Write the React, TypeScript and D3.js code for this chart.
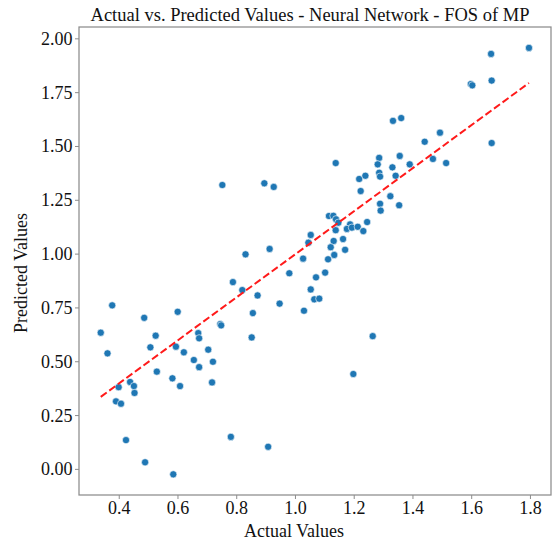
import React from "react";
import * as d3 from "d3";

const actualValues: number[] = [
  0.751, 0.894, 0.926, 0.830, 0.912, 1.026, 1.044, 1.052, 1.795, 1.666,
  1.668, 1.597, 1.602, 1.668, 1.332, 1.360, 1.492, 1.440, 1.468, 1.513,
  1.137, 1.285, 1.280, 1.355, 1.389, 1.330, 1.285, 1.288, 1.341, 1.217,
  1.238, 1.222, 1.323, 1.288, 1.353, 1.290, 1.114, 1.129, 1.138, 1.146,
  1.186, 1.244, 1.137, 1.175, 1.192, 1.212, 1.231, 1.130, 1.162, 1.120,
  1.169, 1.132, 1.111, 1.070, 1.101, 1.052, 1.064, 1.081, 1.029, 1.263,
  1.197, 0.337, 0.376, 0.360, 0.398, 0.389, 0.406, 0.437, 0.450, 0.452,
  0.423, 0.485, 0.506, 0.524, 0.528, 0.488, 0.599, 0.593, 0.620, 0.581,
  0.607, 0.584, 0.654, 0.669, 0.672, 0.672, 0.703, 0.719, 0.716, 0.744,
  0.747, 0.787, 0.819, 0.871, 0.855, 0.851, 0.780, 0.907, 0.979, 0.946,
];

const predictedValues: number[] = [
  1.321, 1.329, 1.312, 0.999, 1.024, 0.979, 1.053, 1.089, 1.958, 1.930,
  1.806, 1.790, 1.784, 1.516, 1.619, 1.632, 1.564, 1.522, 1.442, 1.423,
  1.423, 1.447, 1.417, 1.456, 1.417, 1.403, 1.378, 1.360, 1.364, 1.349,
  1.364, 1.293, 1.269, 1.234, 1.227, 1.202, 1.177, 1.178, 1.162, 1.146,
  1.138, 1.149, 1.111, 1.117, 1.123, 1.127, 1.107, 1.061, 1.070, 1.032,
  1.020, 0.996, 0.976, 0.892, 0.914, 0.836, 0.790, 0.793, 0.737, 0.619,
  0.443, 0.635, 0.762, 0.539, 0.382, 0.316, 0.305, 0.406, 0.387, 0.355,
  0.136, 0.704, 0.567, 0.621, 0.454, 0.033, 0.732, 0.570, 0.544, 0.423,
  0.387, -0.023, 0.508, 0.633, 0.609, 0.475, 0.556, 0.500, 0.404, 0.675,
  0.669, 0.870, 0.833, 0.808, 0.726, 0.613, 0.151, 0.105, 0.911, 0.770,
];

const xTicks: number[] = [0.4, 0.6, 0.8, 1.0, 1.2, 1.4, 1.6, 1.8];
const yTicks: number[] = [0.0, 0.25, 0.5, 0.75, 1.0, 1.25, 1.5, 1.75, 2.0];

const titleText = "Actual vs. Predicted Values - Neural Network - FOS of MP";
const xLabel = "Actual Values";
const yLabel = "Predicted Values";

const W = 553;
const H = 543;
const L = 79;
const R = 551;
const T = 27;
const B = 495;
const FONT = "'Liberation Serif', 'Times New Roman', serif";

export default function App() {
  const x = d3.scaleLinear().domain([0.263, 1.87]).range([L, R]);
  const y = d3.scaleLinear().domain([-0.119, 2.055]).range([B, T]);
  const ext = d3.extent(actualValues) as [number, number];
  const pts = actualValues.map((a, i) => ({ a, p: predictedValues[i] }));
  const spine = "#8c8c8c";

  return (
    <div style={{ position: "absolute", left: 0, top: 0 }}>
      <svg width={W} height={H} style={{ display: "block", background: "#fff" }}>
        <text x={310} y={21} textAnchor="middle" fontFamily={FONT} fontSize={18.5} fill="#111">
          {titleText}
        </text>
        {pts.map((d, i) => (
          <circle key={i} cx={x(d.a)} cy={y(d.p)} r={3.6} fill="#1f77b4" stroke="#fff" strokeWidth={0.6} />
        ))}
        <line
          x1={x(ext[0])}
          y1={y(ext[0])}
          x2={x(ext[1])}
          y2={y(ext[1])}
          stroke="#ff1a1a"
          strokeWidth={2}
          strokeDasharray="7.4,3.2"
        />
        <rect x={L} y={T} width={R - L} height={B - T} fill="none" stroke={spine} strokeWidth={1.25} />
        {xTicks.map((t) => (
          <g key={"x" + t}>
            <line x1={x(t)} x2={x(t)} y1={B} y2={B + 4} stroke={spine} strokeWidth={1} />
            <text x={x(t)} y={514} textAnchor="middle" fontFamily={FONT} fontSize={18} fill="#111">
              {t.toFixed(1)}
            </text>
          </g>
        ))}
        {yTicks.map((t) => (
          <g key={"y" + t}>
            <line x1={L - 4} x2={L} y1={y(t)} y2={y(t)} stroke={spine} strokeWidth={1} />
            <text x={L - 6.5} y={y(t) + 6} textAnchor="end" fontFamily={FONT} fontSize={18} fill="#111">
              {t.toFixed(2)}
            </text>
          </g>
        ))}
        <text x={294} y={537} textAnchor="middle" fontFamily={FONT} fontSize={18} fill="#111">
          {xLabel}
        </text>
        <text
          transform={`translate(27, 273) rotate(-90)`}
          textAnchor="middle"
          fontFamily={FONT}
          fontSize={18}
          fill="#111"
        >
          {yLabel}
        </text>
      </svg>
    </div>
  );
}
